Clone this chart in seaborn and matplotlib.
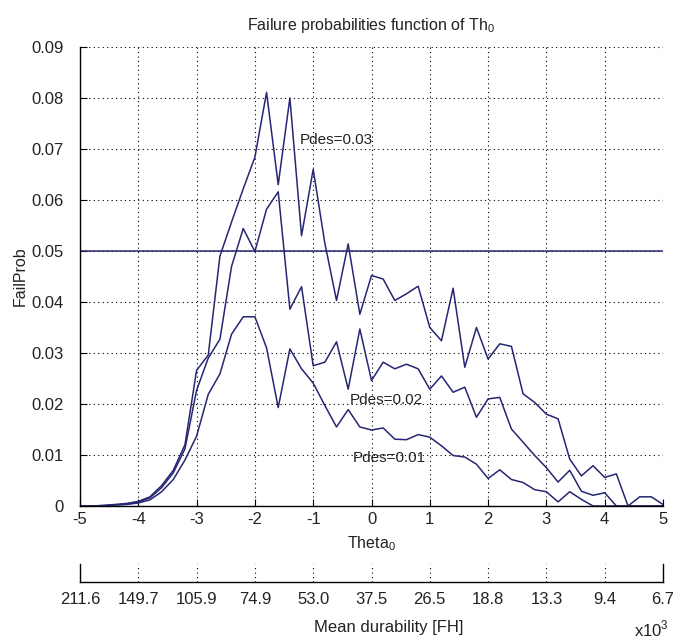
import numpy as np
import pandas as pd
import matplotlib
matplotlib.use("Agg")
import matplotlib.pyplot as plt
import seaborn as sns

theta = [-5.0, -4.8, -4.6, -4.4, -4.2, -4.0, -3.8, -3.6, -3.4, -3.2, -3.0, -2.8, -2.6,
         -2.4, -2.2, -2.0, -1.8, -1.6, -1.4, -1.2, -1.0, -0.8, -0.6, -0.4, -0.2, 0.0,
         0.2, 0.4, 0.6, 0.8, 1.0, 1.2, 1.4, 1.6, 1.8, 2.0, 2.2, 2.4, 2.6, 2.8, 3.0,
         3.2, 3.4, 3.6, 3.8, 4.0, 4.2, 4.4, 4.6, 4.8, 5.0]

pdes_003 = [0.0000, 0.0000, 0.0001, 0.0003, 0.0005, 0.0009, 0.0018, 0.0040, 0.0070, 0.0120,
            0.0266, 0.0296, 0.0490, 0.0557, 0.0622, 0.0684, 0.0811, 0.0630, 0.0800, 0.0530,
            0.0660, 0.0515, 0.0403, 0.0514, 0.0376, 0.0452, 0.0445, 0.0403, 0.0416, 0.0431,
            0.0350, 0.0324, 0.0427, 0.0272, 0.0350, 0.0288, 0.0318, 0.0313, 0.0220, 0.0203,
            0.0180, 0.0171, 0.0092, 0.0059, 0.0079, 0.0056, 0.0063, 0.0000, 0.0018, 0.0018,
            0.0003]

pdes_002 = [0.0000, 0.0000, 0.0001, 0.0002, 0.0004, 0.0008, 0.0016, 0.0036, 0.0065, 0.0112,
            0.0227, 0.0290, 0.0327, 0.0470, 0.0544, 0.0499, 0.0582, 0.0616, 0.0386, 0.0430,
            0.0275, 0.0282, 0.0322, 0.0229, 0.0347, 0.0246, 0.0282, 0.0269, 0.0278, 0.0269,
            0.0229, 0.0255, 0.0223, 0.0233, 0.0174, 0.0210, 0.0213, 0.0151, 0.0125, 0.0099,
            0.0075, 0.0047, 0.0070, 0.0029, 0.0021, 0.0026, 0.0000, 0.0000, 0.0000, 0.0000,
            0.0000]

pdes_001 = [0.0000, 0.0000, 0.0000, 0.0002, 0.0003, 0.0006, 0.0012, 0.0028, 0.0052, 0.0090,
            0.0137, 0.0219, 0.0259, 0.0337, 0.0371, 0.0371, 0.0310, 0.0193, 0.0308, 0.0269,
            0.0241, 0.0197, 0.0155, 0.0189, 0.0155, 0.0149, 0.0153, 0.0131, 0.0130, 0.0140,
            0.0135, 0.0118, 0.0099, 0.0096, 0.0082, 0.0054, 0.0071, 0.0052, 0.0046, 0.0032,
            0.0028, 0.0008, 0.0028, 0.0013, 0.0000, 0.0000, 0.0000, 0.0000, 0.0000, 0.0000,
            0.0000]

threshold = 0.05

theta_ticks = [-5, -4, -3, -2, -1, 0, 1, 2, 3, 4, 5]
y_ticks = [0, 0.01, 0.02, 0.03, 0.04, 0.05, 0.06, 0.07, 0.08, 0.09]
y_tick_labels = ["0", "0.01", "0.02", "0.03", "0.04", "0.05", "0.06", "0.07", "0.08", "0.09"]
durability_labels = ["211.6", "149.7", "105.9", "74.9", "53.0", "37.5", "26.5", "18.8",
                     "13.3", "9.4", "6.7"]

series_names = ["Pdes=0.03", "Pdes=0.02", "Pdes=0.01"]

sns.set_style("white")
plt.rcParams["font.family"] = ["Liberation Sans", "DejaVu Sans"]
plt.rcParams["mathtext.fontset"] = "custom"
plt.rcParams["mathtext.rm"] = "Liberation Sans"

LINE = "#262673"
TXT = "#222222"
FS = 11.5
FS_T = 12

df = pd.DataFrame({
    "theta": theta * 3,
    "prob": pdes_003 + pdes_002 + pdes_001,
    "series": sum([[n] * len(theta) for n in series_names], []),
})

fig = plt.figure(figsize=(6.73, 6.41), dpi=100)
ax = fig.add_axes([80 / 673, 1 - 506 / 641, 583 / 673, 459 / 641])

sns.lineplot(data=df, x="theta", y="prob", hue="series", units="series", estimator=None,
             palette=[LINE] * 3, linewidth=1.1, legend=False, ax=ax)
ax.axhline(threshold, color=LINE, linewidth=1.1)

ax.set_xlim(-5, 5)
ax.set_ylim(0, 0.09)
ax.set_xticks(theta_ticks)
ax.set_xticklabels([str(t) for t in theta_ticks])
ax.set_yticks(y_ticks)
ax.set_yticklabels(y_tick_labels)
ax.grid(True, color="k", linestyle=(0, (1, 3)), linewidth=0.8)
for s in ["top", "right"]:
    ax.spines[s].set_visible(False)
for s in ["left", "bottom"]:
    ax.spines[s].set_color("k")
    ax.spines[s].set_linewidth(1.0)
ax.tick_params(direction="in", length=5, width=0.8, colors="k", labelcolor=TXT,
               labelsize=FS_T, left=True, bottom=True)
ax.tick_params(axis="x", pad=4.5)
ax.tick_params(axis="y", pad=12)
ax.set_xlabel(r"Theta$_{\mathregular{0}}$", fontsize=FS, color=TXT, labelpad=5)
ax.set_ylabel("FailProb", fontsize=FS, color=TXT, labelpad=2)
ax.set_title(r"Failure probabilities function of Th$_{\mathregular{0}}$", fontsize=FS,
             color=TXT, pad=12)

ax.text(-1.23, 0.0718, "Pdes=0.03", fontsize=11, color=TXT, va="center", ha="left")
ax.text(-0.37, 0.0208, "Pdes=0.02", fontsize=11, color=TXT, va="center", ha="left")
ax.text(-0.33, 0.0094, "Pdes=0.01", fontsize=11, color=TXT, va="center", ha="left")

ax2 = fig.add_axes([80 / 673, 1 - 582 / 641, 583 / 673, 18 / 641])
ax2.set_xlim(-5, 5)
ax2.set_ylim(0, 1)
ax2.set_yticks([])
ax2.set_xticks(theta_ticks)
ax2.set_xticklabels(durability_labels)
ax2.grid(True, axis="x", color="k", linestyle=(0, (1, 3)), linewidth=0.8)
ax2.spines["top"].set_visible(False)
for s in ["left", "bottom", "right"]:
    ax2.spines[s].set_color("k")
    ax2.spines[s].set_linewidth(1.0)
ax2.tick_params(direction="in", length=5, width=0.8, colors="k", labelcolor=TXT,
                labelsize=FS_T, pad=7)
ax2.set_xlabel("Mean durability [FH]", fontsize=FS_T, color=TXT)
ax2.xaxis.set_label_coords(0.53, -2.1)
ax2.text(1.01, -2.6, r"x10$^{\mathregular{3}}$", transform=ax2.transAxes, fontsize=FS_T,
         color=TXT, ha="right", va="center")

fig.savefig("out.png", dpi=100, facecolor="white")
